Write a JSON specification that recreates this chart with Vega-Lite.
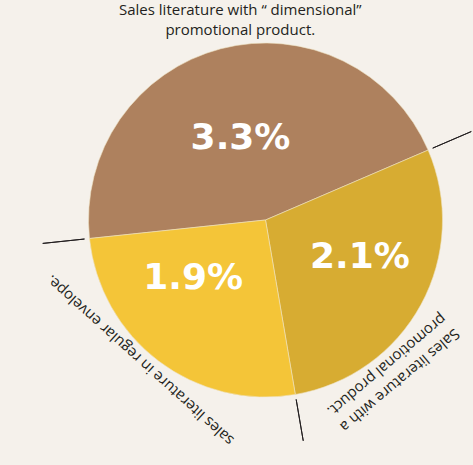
{
  "$schema": "https://vega.github.io/schema/vega-lite/v6.json",
  "width": 415,
  "height": 440,
  "autosize": {"type": "none"},
  "padding": {"left": 58, "top": 0, "right": 0, "bottom": 25},
  "background": "#f5f1eb",
  "view": {"stroke": null},
  "data": {
    "values": [
      {"label": "Sales literature with “ dimensional”\npromotional product.", "share": 0.033},
      {"label": "Sales literature with a\npromotional product.", "share": 0.021},
      {"label": "sales literature in regular envelope.", "share": 0.019}
    ]
  },
  "encoding": {
    "theta": {"field": "share", "type": "quantitative", "stack": true, "scale": {"range": [4.60767, 10.89086], "zero": true, "nice": false}},
    "order": {"field": "share", "type": "quantitative", "sort": "descending"}
  },
  "layer": [
    {
      "mark": {"type": "arc", "outerRadius": 177, "stroke": "#efe2c2", "strokeWidth": 0.6},
      "encoding": {
        "color": {
          "field": "label",
          "type": "nominal",
          "scale": {
            "domain": [
              "Sales literature with “ dimensional”\npromotional product.",
              "Sales literature with a\npromotional product.",
              "sales literature in regular envelope."
            ],
            "range": ["#ae815e", "#d7ac32", "#f4c538"]
          },
          "legend": null
        }
      }
    },
    {
      "transform": [
        {"window": [{"op": "sum", "field": "share", "as": "cum"}], "sort": [{"field": "share", "order": "descending"}]}
      ],
      "mark": {"type": "arc", "outerRadius": 224, "innerRadius": 182, "filled": false, "color": "#231f20", "strokeWidth": 1},
      "encoding": {
        "theta": {"field": "cum", "type": "quantitative", "stack": null},
        "theta2": {"field": "cum"}
      }
    },
    {
      "mark": {"type": "text", "radius": 95, "dx": -1, "dy": 10, "font": "DejaVu Sans", "fontWeight": "bold", "fontSize": 36, "color": "#ffffff", "align": "center", "baseline": "middle"},
      "encoding": {
        "text": {"condition": {"test": "datum.share > 0.03", "field": "share", "type": "quantitative", "format": ".1%"}, "value": ""}
      }
    },
    {
      "mark": {"type": "text", "radius": 95, "dx": 11, "dy": -8, "font": "DejaVu Sans", "fontWeight": "bold", "fontSize": 36, "color": "#ffffff", "align": "center", "baseline": "middle"},
      "encoding": {
        "text": {"condition": {"test": "datum.share == 0.021", "field": "share", "type": "quantitative", "format": ".1%"}, "value": ""}
      }
    },
    {
      "mark": {"type": "text", "radius": 95, "dx": -15, "dy": -18, "font": "DejaVu Sans", "fontWeight": "bold", "fontSize": 36, "color": "#ffffff", "align": "center", "baseline": "middle"},
      "encoding": {
        "text": {"condition": {"test": "datum.share < 0.02", "field": "share", "type": "quantitative", "format": ".1%"}, "value": ""}
      }
    },
    {
      "mark": {"type": "text", "radius": 183, "angle": 0, "dx": 21, "dy": -25, "font": "Open Sans", "fontSize": 15, "color": "#231f20", "align": "center", "baseline": "bottom", "lineBreak": "\n", "lineHeight": 20},
      "encoding": {
        "text": {"condition": {"test": "datum.share > 0.03", "field": "label", "type": "nominal"}, "value": ""}
      }
    },
    {
      "mark": {"type": "text", "radius": 185, "angle": 140, "dx": 68, "dy": -29, "font": "Open Sans", "fontSize": 15, "color": "#231f20", "align": "center", "baseline": "bottom", "lineBreak": "\n", "lineHeight": 20},
      "encoding": {
        "text": {"condition": {"test": "datum.share == 0.021", "field": "label", "type": "nominal"}, "value": ""}
      }
    },
    {
      "mark": {"type": "text", "radius": 185, "angle": 222, "dx": 15, "dy": 4, "font": "Open Sans", "fontSize": 15, "color": "#231f20", "align": "center", "baseline": "bottom", "lineBreak": "\n", "lineHeight": 20},
      "encoding": {
        "text": {"condition": {"test": "datum.share < 0.02", "field": "label", "type": "nominal"}, "value": ""}
      }
    }
  ]
}
